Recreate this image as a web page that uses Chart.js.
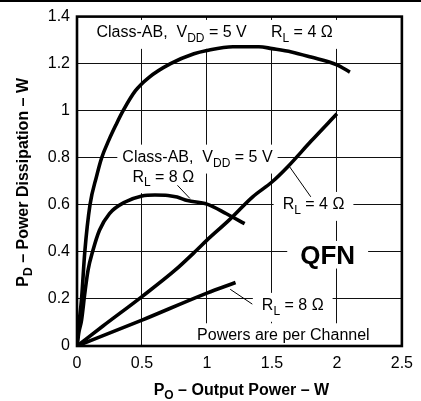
<!DOCTYPE html>
<html>
<head>
<meta charset="utf-8">
<script src="https://cdn.jsdelivr.net/npm/chart.js@4.4.1/dist/chart.umd.min.js"></script>
<style>
  html, body { margin: 0; padding: 0; background: #fff; }
  #wrap { width: 421px; height: 401px; }
</style>
</head>
<body>
<div id="wrap"><canvas id="c" width="421" height="401"></canvas></div>
<script>
const FONT = '"Liberation Sans", Arial, Helvetica, sans-serif';

// Class-AB, VDD = 5 V, RL = 4 Ω
const abFourPo = [0, 0.012, 0.035, 0.06, 0.1, 0.15, 0.19, 0.245, 0.3, 0.355, 0.45, 0.55, 0.72, 0.9, 1.0, 1.2, 1.4, 1.5, 1.65, 1.8, 2.0, 2.1];
const abFourPd = [0, 0.08, 0.2, 0.4, 0.6, 0.72, 0.8, 0.875, 0.94, 1.0, 1.085, 1.14, 1.2, 1.242, 1.256, 1.272, 1.272, 1.264, 1.25, 1.228, 1.195, 1.164];

// Class-AB, VDD = 5 V, RL = 8 Ω
const abEightPo = [0, 0.015, 0.035, 0.06, 0.085, 0.123, 0.173, 0.25, 0.37, 0.5, 0.6, 0.7, 0.77, 0.85, 1.0, 1.15, 1.29];
const abEightPd = [0, 0.06, 0.11, 0.224, 0.322, 0.407, 0.492, 0.563, 0.612, 0.638, 0.642, 0.64, 0.633, 0.618, 0.603, 0.562, 0.52];

// RL = 4 Ω (lower, near-linear curve)
const fourPo = [0, 0.2, 0.5, 0.75, 0.92, 1.0, 1.17, 1.35, 1.5, 1.62, 1.8, 2.0];
const fourPd = [0, 0.085, 0.21, 0.32, 0.407, 0.45, 0.535, 0.633, 0.697, 0.761, 0.87, 0.987];

// RL = 8 Ω (lower, near-linear curve)
const eightPo = [0, 0.5, 1.0, 1.22];
const eightPd = [0, 0.11, 0.225, 0.27];

const xTickLabels = ['0', '0.5', '1', '1.5', '2', '2.5'];
const yTickLabels = ['0', '0.2', '0.4', '0.6', '0.8', '1', '1.2', '1.4'];

// Text labels placed in data units; parts: [text, isSubscript]
const labels = [
  { parts: [['Class-AB,  V'], ['DD', 1], [' = 5 V']], x: 0.728, y: 1.336, size: 16, bold: false, pad: [5, 6] },
  { parts: [['R'], ['L', 1], [' = 4 Ω']], x: 1.730, y: 1.336, size: 16, bold: false, pad: [6, 6] },
  { parts: [['Class-AB,  V'], ['DD', 1], [' = 5 V']], x: 0.927, y: 0.806, size: 16, bold: false, pad: [5, 6] },
  { parts: [['R'], ['L', 1], [' = 8 Ω']], x: 0.664, y: 0.723, size: 16, bold: false, pad: [6, 6] },
  { parts: [['R'], ['L', 1], [' = 4 Ω']], x: 1.820, y: 0.605, size: 16, bold: false, pad: [9, 6] },
  { parts: [['QFN']], x: 1.929, y: 0.390, size: 26, bold: true, pad: [13, 4] },
  { parts: [['R'], ['L', 1], [' = 8 Ω']], x: 1.660, y: 0.176, size: 16, bold: false, pad: [9, 6] },
  { parts: [['Powers are per Channel']], x: 1.588, y: 0.051, size: 16, bold: false, pad: [4, 5] }
];

// Leader lines from curves to their labels (data units)
const leaders = [
  [[0.773, 0.683], [0.869, 0.627]],
  [[1.637, 0.761], [1.799, 0.634]],
  [[1.179, 0.241], [1.349, 0.178]]
];

const pts = (xs, ys) => xs.map((x, i) => ({ x: x, y: ys[i] }));
const curve = (xs, ys) => ({
  data: pts(xs, ys),
  borderColor: '#000',
  borderWidth: 3.6,
  pointRadius: 0,
  fill: false,
  cubicInterpolationMode: 'monotone',
  borderJoinStyle: 'round',
  borderCapStyle: 'butt'
});

function fontOf(size, bold) {
  return (bold ? 'bold ' : '') + size + 'px ' + FONT;
}

function partsWidth(ctx, parts, size, bold) {
  let w = 0;
  parts.forEach(p => {
    ctx.font = fontOf(p[1] ? Math.round(size * 0.75) : size, bold);
    w += ctx.measureText(p[0]).width;
  });
  return w;
}

function drawParts(ctx, parts, x, baseline, size, bold) {
  let cx = x;
  parts.forEach(p => {
    const s = p[1] ? Math.round(size * 0.75) : size;
    ctx.font = fontOf(s, bold);
    ctx.fillText(p[0], cx, p[1] ? baseline + size * 0.28 : baseline);
    cx += ctx.measureText(p[0]).width;
  });
}

function labelGeometry(ctx, chart, lb) {
  const xs = chart.scales.x, ys = chart.scales.y;
  const w = partsWidth(ctx, lb.parts, lb.size, lb.bold);
  const cx = xs.getPixelForValue(lb.x);
  const cy = ys.getPixelForValue(lb.y);
  const cap = lb.size * 0.716;
  return { w: w, left: cx - w / 2, baseline: cy + cap / 2, top: cy - cap / 2, cap: cap };
}

const decorations = {
  id: 'decorations',
  beforeDatasetsDraw(chart) {
    const ctx = chart.ctx;
    ctx.save();
    ctx.fillStyle = '#fff';
    labels.forEach(lb => {
      const g = labelGeometry(ctx, chart, lb);
      const hasSub = lb.parts.some(p => p[1]);
      const bottom = g.baseline + (hasSub ? lb.size * 0.28 + 1 : 1);
      ctx.fillRect(g.left - lb.pad[0], g.top - lb.pad[1], g.w + lb.pad[0] * 2, bottom - g.top + lb.pad[1] * 2);
    });
    ctx.restore();
  },
  afterDatasetsDraw(chart) {
    const ctx = chart.ctx;
    const xs = chart.scales.x, ys = chart.scales.y;
    const a = chart.chartArea;
    ctx.save();

    // leader lines
    ctx.strokeStyle = '#000';
    ctx.lineWidth = 1;
    leaders.forEach(l => {
      ctx.beginPath();
      ctx.moveTo(xs.getPixelForValue(l[0][0]), ys.getPixelForValue(l[0][1]));
      ctx.lineTo(xs.getPixelForValue(l[1][0]), ys.getPixelForValue(l[1][1]));
      ctx.stroke();
    });

    // label text
    ctx.fillStyle = '#000';
    ctx.textBaseline = 'alphabetic';
    ctx.textAlign = 'left';
    labels.forEach(lb => {
      const g = labelGeometry(ctx, chart, lb);
      drawParts(ctx, lb.parts, g.left, g.baseline, lb.size, lb.bold);
    });

    // plot frame
    ctx.lineWidth = 2.6;
    ctx.strokeRect(a.left, a.top, a.right - a.left, a.bottom - a.top);

    // rule across the top of the figure
    ctx.fillRect(0, 0, chart.width, 2);

    // axis titles
    const xTitle = [['P'], ['O', 1], [' – Output Power – W']];
    const xw = partsWidth(ctx, xTitle, 16, true);
    drawParts(ctx, xTitle, (a.left + a.right) / 2 + 2 - xw / 2, 395, 16, true);

    const yTitle = [['P'], ['D', 1], [' – Power Dissipation – W']];
    const yw = partsWidth(ctx, yTitle, 16, true);
    ctx.translate(27.5, (a.top + a.bottom) / 2 + 1);
    ctx.rotate(-Math.PI / 2);
    drawParts(ctx, yTitle, -yw / 2, 0, 16, true);

    ctx.restore();
  }
};

new Chart(document.getElementById('c').getContext('2d'), {
  type: 'line',
  data: {
    datasets: [
      curve(abFourPo, abFourPd),
      curve(abEightPo, abEightPd),
      curve(fourPo, fourPd),
      curve(eightPo, eightPd)
    ]
  },
  options: {
    responsive: false,
    animation: false,
    devicePixelRatio: 1,
    layout: { padding: { top: 16, right: 11, bottom: 0, left: 0 } },
    plugins: { legend: { display: false }, tooltip: { enabled: false } },
    scales: {
      x: {
        type: 'linear',
        min: 0,
        max: 2.5,
        border: { display: false },
        grid: { color: '#111', lineWidth: 1, drawTicks: false },
        ticks: {
          stepSize: 0.5,
          padding: 8,
          color: '#000',
          maxRotation: 0,
          autoSkip: false,
          font: { family: FONT, size: 16 },
          callback: v => xTickLabels[Math.round(v / 0.5)]
        },
        afterFit: s => { s.height = 55; }
      },
      y: {
        type: 'linear',
        min: 0,
        max: 1.4,
        border: { display: false },
        grid: { color: '#111', lineWidth: 1, drawTicks: false },
        ticks: {
          stepSize: 0.2,
          padding: 7,
          color: '#000',
          autoSkip: false,
          font: { family: FONT, size: 16 },
          callback: v => yTickLabels[Math.round(v / 0.2)]
        },
        afterFit: s => { s.width = 77; }
      }
    }
  },
  plugins: [decorations]
});
</script>
</body>
</html>
